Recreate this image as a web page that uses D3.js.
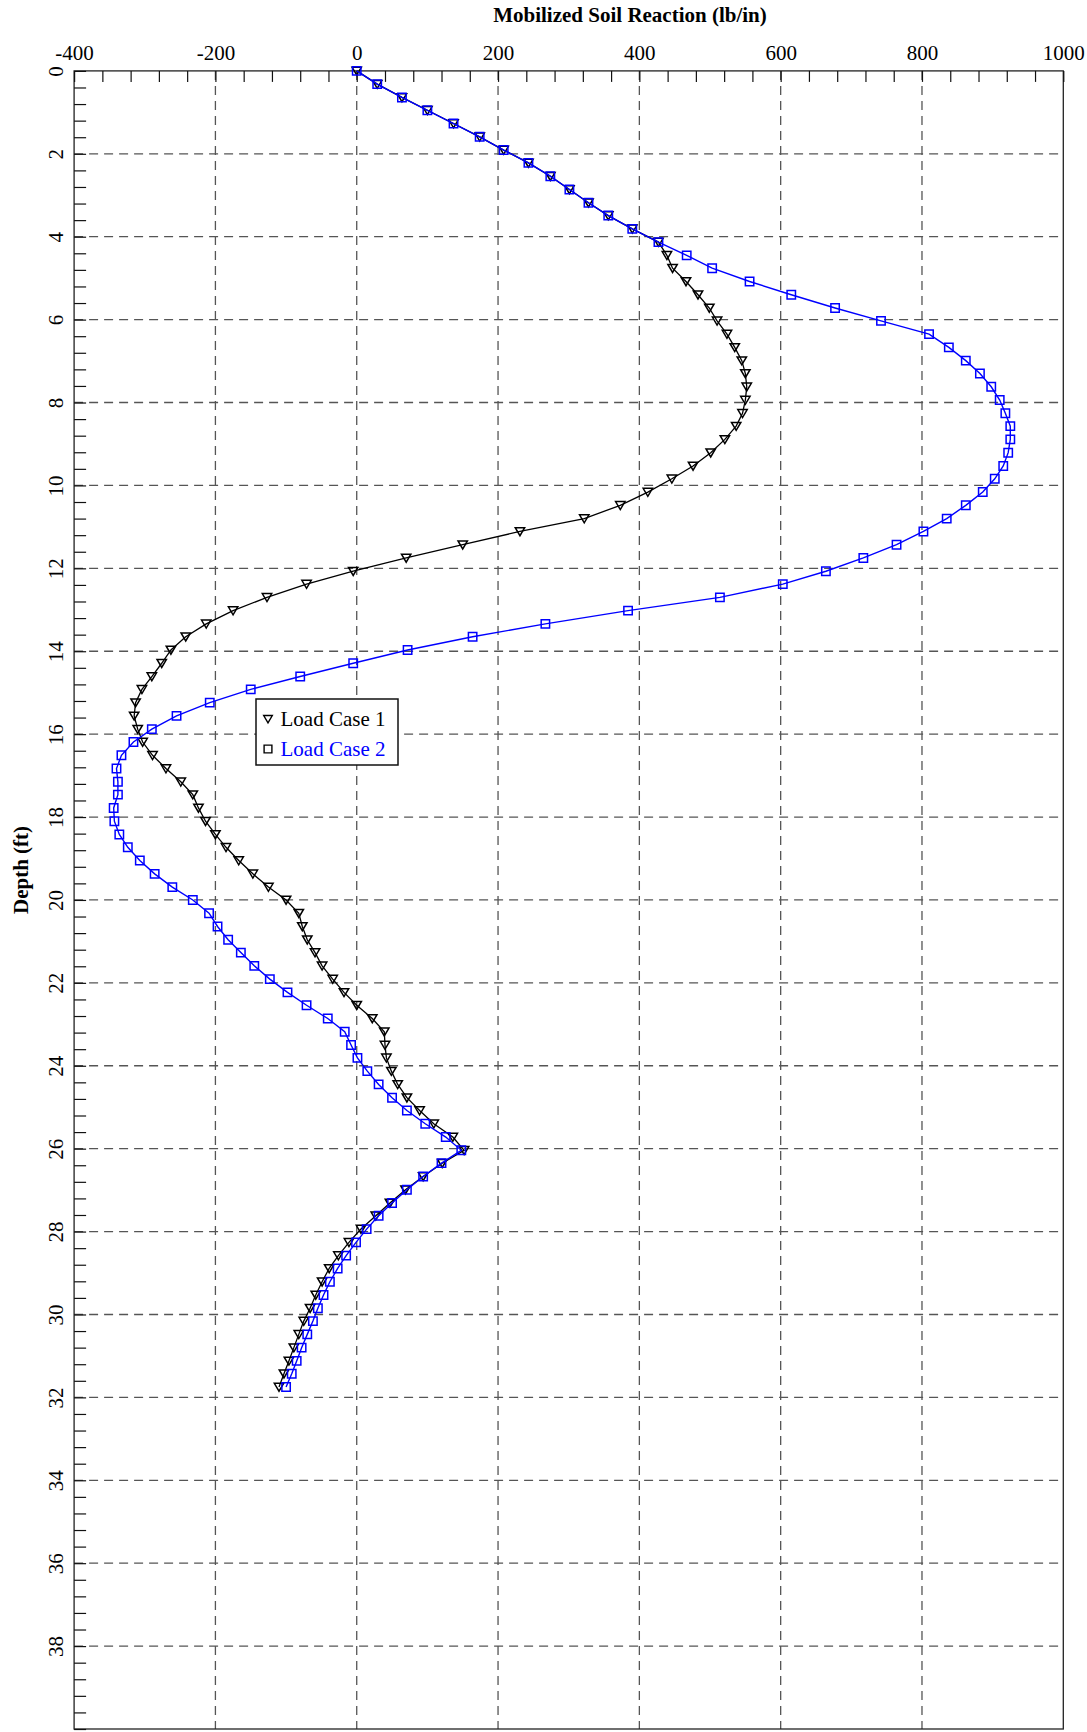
<!DOCTYPE html>
<html>
<head>
<meta charset="utf-8">
<script src="https://cdn.jsdelivr.net/npm/d3@7"></script>
<style>
  html, body { margin: 0; padding: 0; background: #fff; }
  svg { display: block; }
  text { font-family: "Liberation Serif", "Times New Roman", serif; }
</style>
</head>
<body>
<svg id="chart" width="1087" height="1732"></svg>
<script>
// Depth below ground (ft) of each pile node
const depths = [
  0, 0.32, 0.64, 0.95, 1.27, 1.59, 1.91, 2.22, 2.54, 2.86, 3.18, 3.49, 3.81, 4.13, 4.45, 4.76,
  5.08, 5.40, 5.72, 6.03, 6.35, 6.67, 6.99, 7.30, 7.62, 7.94, 8.26, 8.57, 8.89, 9.21, 9.53, 9.84,
  10.16, 10.48, 10.80, 11.11, 11.43, 11.75, 12.07, 12.38, 12.70, 13.02, 13.34, 13.65, 13.97, 14.29,
  14.61, 14.92, 15.24, 15.56, 15.88, 16.19, 16.51, 16.83, 17.15, 17.46, 17.78, 18.10, 18.42, 18.73,
  19.05, 19.37, 19.69, 20.00, 20.32, 20.64, 20.96, 21.27, 21.59, 21.91, 22.23, 22.54, 22.86, 23.18,
  23.50, 23.81, 24.13, 24.45, 24.77, 25.08, 25.40, 25.72, 26.04, 26.35, 26.67, 26.99, 27.31, 27.62,
  27.94, 28.26, 28.58, 28.89, 29.21, 29.53, 29.85, 30.16, 30.48, 30.80, 31.12, 31.43, 31.75
];

// Mobilized soil reaction (lb/in), Load Case 1
const loadCase1 = [
  0, 29, 64, 100, 137, 174, 208, 243, 274, 301, 328, 356, 390, 427, 439, 447,
  466, 483, 499, 510, 524, 535, 545, 550, 552, 550, 546, 537, 521, 501, 476, 446,
  412, 373, 322, 231, 150, 70, -5, -71, -127, -175, -213, -242, -263, -276,
  -290, -304, -313, -315, -310, -303, -289, -270, -249, -232, -224, -214, -200, -185,
  -167, -147, -125, -100, -82, -77, -70, -59, -49, -34, -18, 0, 22, 39,
  40, 42, 49, 58, 71, 89, 109, 136, 152, 121, 94, 69, 47, 27,
  6, -11, -26, -39, -49, -58, -66, -75, -82, -89, -96, -103, -110
];

// Mobilized soil reaction (lb/in), Load Case 2
const loadCase2 = [
  0, 29, 64, 100, 137, 174, 208, 243, 274, 301, 328, 356, 390, 427, 467, 503,
  556, 615, 677, 742, 810, 838, 862, 882, 898, 910, 918, 925, 925, 922, 915, 903,
  886, 862, 835, 802, 764, 717, 664, 603, 514, 384, 267, 164, 72, -5,
  -80, -150, -208, -255, -290, -316, -333, -340, -338, -338, -344, -343, -336, -324,
  -307, -286, -261, -232, -209, -197, -182, -164, -145, -123, -98, -71, -41, -17,
  -8, 1, 15, 31, 50, 71, 97, 126, 148, 120, 94, 71, 50, 31,
  14, -1, -15, -27, -38, -47, -55, -62, -70, -78, -85, -92, -100
];

const seriesNames = ["Load Case 1", "Load Case 2"];
const xTickLabels = [-400, -200, 0, 200, 400, 600, 800, 1000];
const yTickLabels = [0, 2, 4, 6, 8, 10, 12, 14, 16, 18, 20, 22, 24, 26, 28, 30, 32, 34, 36, 38];

const svg = d3.select("#chart");

const plot = { left: 74.1, right: 1063.3, top: 70.9, bottom: 1729 };

const x = d3.scaleLinear().domain([-400, 1000]).range([plot.left, plot.right]);
const y = d3.scaleLinear().domain([0, 40]).range([plot.top, plot.bottom]);

const gridColor = "#555";
const blue = "#0000ff";

// Dashed grid
const grid = svg.append("g").attr("class", "grid");
grid.selectAll("line.v")
  .data(xTickLabels.filter(v => v > -400 && v < 1000))
  .join("line")
  .attr("x1", d => x(d)).attr("x2", d => x(d))
  .attr("y1", plot.top).attr("y2", plot.bottom)
  .attr("stroke", gridColor).attr("stroke-width", 1.3)
  .attr("stroke-dasharray", "9,6");
grid.selectAll("line.h")
  .data(yTickLabels.filter(v => v > 0))
  .join("line")
  .attr("x1", plot.left).attr("x2", plot.right)
  .attr("y1", d => y(d)).attr("y2", d => y(d))
  .attr("stroke", gridColor).attr("stroke-width", 1.3)
  .attr("stroke-dasharray", "9,6");

// Frame
svg.append("rect")
  .attr("x", plot.left).attr("y", plot.top)
  .attr("width", plot.right - plot.left).attr("height", plot.bottom - plot.top)
  .attr("fill", "none").attr("stroke", "#222").attr("stroke-width", 1.3);

// Top axis: minor ticks every 40 lb/in pointing into the plot
const xAxis = d3.axisTop(x)
  .tickValues(d3.range(-400, 1001, 40))
  .tickSize(-11)
  .tickFormat(d => xTickLabels.includes(d) ? d : "");
const gx = svg.append("g")
  .attr("transform", `translate(0,${plot.top})`)
  .call(xAxis);
gx.select(".domain").remove();
gx.selectAll(".tick line").attr("stroke", "#111").attr("stroke-width", 1.2);
gx.selectAll(".tick text")
  .attr("y", -10.5)
  .attr("dy", 0)
  .attr("font-family", "'Liberation Serif', serif")
  .attr("font-size", 21)
  .attr("fill", "#000");

// Left axis: minor ticks every 0.4 ft pointing into the plot
const yAxis = d3.axisLeft(y)
  .tickValues(d3.range(0, 40.001, 0.4).map(v => +v.toFixed(1)))
  .tickSize(-12)
  .tickFormat(d => yTickLabels.includes(d) ? d : "");
const gy = svg.append("g")
  .attr("transform", `translate(${plot.left},0)`)
  .call(yAxis);
gy.select(".domain").remove();
gy.selectAll(".tick line").attr("stroke", "#111").attr("stroke-width", 1.2);
gy.selectAll(".tick text")
  .attr("x", null).attr("dy", null)
  .attr("transform", "translate(-11,0) rotate(-90)")
  .attr("text-anchor", "middle")
  .attr("font-family", "'Liberation Serif', serif")
  .attr("font-size", 21)
  .attr("fill", "#000");

// Axis titles
svg.append("text")
  .attr("x", 630).attr("y", 22)
  .attr("text-anchor", "middle")
  .attr("font-weight", "bold")
  .attr("font-size", 21)
  .text("Mobilized Soil Reaction (lb/in)");

svg.append("text")
  .attr("transform", "translate(28,870) rotate(-90)")
  .attr("text-anchor", "middle")
  .attr("font-weight", "bold")
  .attr("font-size", 21)
  .text("Depth (ft)");

// Marker shapes
const triPath = s => `M${-s},${-s * 0.8}L${s},${-s * 0.8}L0,${s * 0.9}Z`;
const sqPath = s => `M${-s},${-s}L${s},${-s}L${s},${s}L${-s},${s}Z`;

const line = d3.line().x(d => x(d[1])).y(d => y(d[0]));

const series = [
  { name: seriesNames[0], values: loadCase1, color: "#000", marker: triPath(4.7), width: 1.3 },
  { name: seriesNames[1], values: loadCase2, color: blue, marker: sqPath(4.2), width: 1.4 }
];

series.forEach(s => {
  const pts = depths.map((d, i) => [d, s.values[i]]);
  const g = svg.append("g");
  g.append("path")
    .attr("d", line(pts))
    .attr("fill", "none")
    .attr("stroke", s.color)
    .attr("stroke-width", s.width);
  g.selectAll("path.m")
    .data(pts)
    .join("path")
    .attr("class", "m")
    .attr("transform", d => `translate(${x(d[1])},${y(d[0])})`)
    .attr("d", s.marker)
    .attr("fill", "none")
    .attr("stroke", s.color)
    .attr("stroke-width", 1.5);
});

// Legend
const lg = svg.append("g").attr("transform", "translate(256,699)");
lg.append("rect")
  .attr("width", 142).attr("height", 66)
  .attr("fill", "#fff").attr("stroke", "#111").attr("stroke-width", 1.5);
const legendRows = [
  { label: seriesNames[0], color: "#000", marker: triPath(4.3) },
  { label: seriesNames[1], color: blue, marker: sqPath(3.9) }
];
legendRows.forEach((r, i) => {
  const cy = 20 + i * 30;
  lg.append("path")
    .attr("transform", `translate(12,${cy})`)
    .attr("d", r.marker)
    .attr("fill", "none").attr("stroke", "#000").attr("stroke-width", 1.4);
  lg.append("text")
    .attr("x", 24.5).attr("y", cy + 7)
    .attr("font-size", 21)
    .attr("fill", r.color)
    .text(r.label);
});
</script>
</body>
</html>
